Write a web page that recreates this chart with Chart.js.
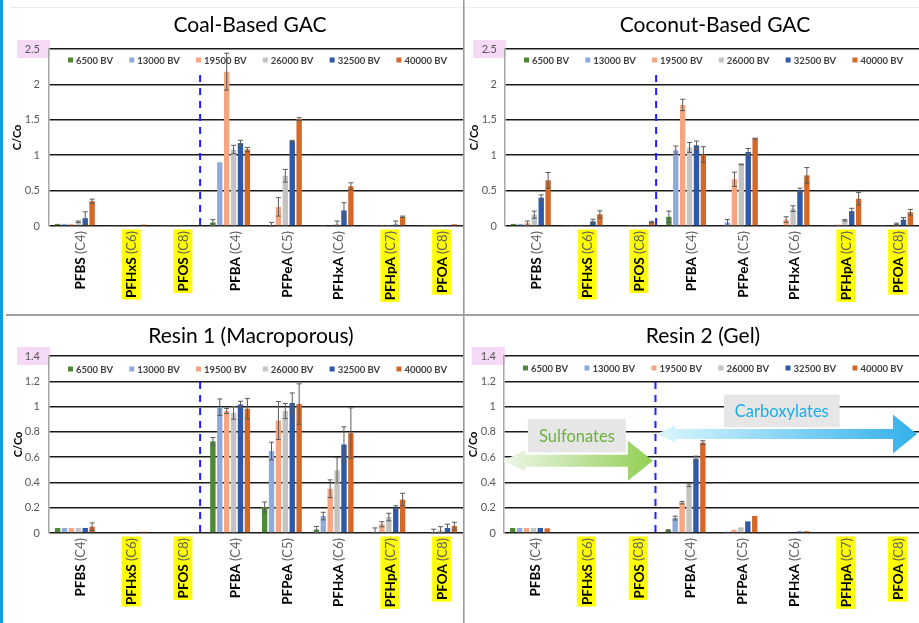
<!DOCTYPE html>
<html>
<head>
<meta charset="utf-8">
<script src="https://cdn.jsdelivr.net/npm/chart.js@4.4.0/dist/chart.umd.min.js"></script>
<style>
  html, body { margin: 0; padding: 0; background: #fff; }
  body { width: 919px; height: 623px; position: relative; overflow: hidden; font-family: Lato, sans-serif; }
  canvas { position: absolute; }
  #stripe { position: absolute; left: 0; top: 0; width: 3px; height: 623px; background: #0f9ee0; }
  #topline { position: absolute; left: 10px; top: 7px; width: 909px; height: 0; border-top: 1px solid #ececec; }
  #vline { position: absolute; left: 463px; top: 0; width: 0; height: 623px; border-left: 1px solid #9a9a9a; border-right: 1px solid #c4c4c4; }
  #hline { position: absolute; left: 6px; top: 314px; width: 913px; height: 0; border-top: 2px solid #a0a0a0; }
</style>
</head>
<body>
<div id="stripe"></div>
<div id="topline"></div>
<canvas id="coal" width="459" height="306" style="left:4px;top:8px"></canvas>
<canvas id="coconut" width="453" height="306" style="left:466px;top:8px"></canvas>
<canvas id="resin1" width="459" height="306" style="left:4px;top:317px"></canvas>
<canvas id="resin2" width="453" height="306" style="left:466px;top:317px"></canvas>
<div id="vline"></div>
<div id="hline"></div>
<script>
// ---- data -------------------------------------------------------------
const categories = ["PFBS", "PFHxS", "PFOS", "PFBA", "PFPeA", "PFHxA", "PFHpA", "PFOA"];
const carbonTags = ["(C4)", "(C6)", "(C8)", "(C4)", "(C5)", "(C6)", "(C7)", "(C8)"];
const highlighted = [false, true, true, false, false, false, true, true];
const seriesLabels = ["6500 BV", "13000 BV", "19500 BV", "26000 BV", "32500 BV", "40000 BV"];
const seriesColors = ["#4e8a35", "#8eaadb", "#f4a582", "#c3c3c3", "#2e59a8", "#d2692b"];

// rows = series (6500 ... 40000 BV), columns = categories
const coalMean = [
  [0.03, 0.012, 0.008, 0.05, 0, 0, 0.008, 0.008],
  [0.03, 0.012, 0.008, 0.90, 0.01, 0.008, 0.008, 0.008],
  [0.03, 0.012, 0.008, 2.18, 0.27, 0, 0.008, 0.008],
  [0.06, 0.012, 0.008, 1.08, 0.71, 0.03, 0.008, 0.008],
  [0.11, 0.012, 0.008, 1.17, 1.20, 0.22, 0.02, 0.008],
  [0.35, 0.02, 0.012, 1.08, 1.51, 0.56, 0.13, 0.025]
];
const coalErr = [
  [0, 0, 0, 0.04, 0, 0, 0, 0],
  [0, 0, 0, 0, 0.04, 0, 0, 0],
  [0, 0, 0, 0.26, 0.13, 0, 0, 0],
  [0.01, 0, 0, 0.06, 0.09, 0.04, 0, 0],
  [0.09, 0, 0, 0.04, 0.01, 0.11, 0.05, 0],
  [0.03, 0, 0, 0.03, 0.02, 0.05, 0.01, 0]
];

const coconutMean = [
  [0.03, 0.008, 0, 0.13, 0, 0.008, 0.008, 0.008],
  [0.03, 0.008, 0, 1.07, 0.05, 0, 0.008, 0.008],
  [0.04, 0.008, 0.008, 1.71, 0.66, 0.09, 0.02, 0.01],
  [0.16, 0.01, 0.008, 1.11, 0.87, 0.245, 0.08, 0.03],
  [0.40, 0.066, 0.015, 1.14, 1.045, 0.505, 0.21, 0.09],
  [0.645, 0.165, 0.057, 1.01, 1.235, 0.715, 0.385, 0.195]
];
const coconutErr = [
  [0, 0, 0, 0.08, 0, 0, 0, 0],
  [0, 0, 0, 0.06, 0.04, 0, 0, 0],
  [0.03, 0, 0, 0.08, 0.10, 0.04, 0, 0],
  [0.05, 0, 0, 0.07, 0.005, 0.04, 0.01, 0.01],
  [0.04, 0.03, 0, 0.06, 0.05, 0.03, 0.04, 0.03],
  [0.11, 0.05, 0.01, 0.11, 0.005, 0.11, 0.09, 0.04]
];

const resin1Mean = [
  [0.04, 0.006, 0, 0.725, 0.205, 0.027, 0.006, 0.006],
  [0.04, 0.006, 0, 0.995, 0.648, 0.134, 0.01, 0.006],
  [0.04, 0.006, 0, 0.965, 0.89, 0.35, 0.069, 0.01],
  [0.04, 0.006, 0, 0.95, 0.965, 0.496, 0.126, 0.02],
  [0.04, 0.006, 0, 1.017, 1.028, 0.70, 0.20, 0.04],
  [0.05, 0.01, 0.006, 0.983, 1.02, 0.79, 0.264, 0.055]
];
const resin1Err = [
  [0, 0, 0, 0.03, 0.04, 0.025, 0, 0],
  [0, 0, 0, 0.065, 0.07, 0.03, 0.03, 0],
  [0, 0, 0, 0.02, 0.15, 0.07, 0.02, 0.02],
  [0, 0, 0, 0.05, 0.06, 0.10, 0.03, 0.03],
  [0, 0, 0, 0.025, 0.08, 0.14, 0.015, 0.03],
  [0.03, 0, 0, 0.08, 0.16, 0.20, 0.05, 0.03]
];

const resin2Mean = [
  [0.04, 0.006, 0, 0.021, 0.006, 0, 0.006, 0.006],
  [0.04, 0.006, 0, 0.118, 0.01, 0, 0.006, 0.006],
  [0.04, 0.006, 0, 0.24, 0.025, 0, 0.006, 0.006],
  [0.04, 0.006, 0, 0.377, 0.045, 0.006, 0.006, 0.006],
  [0.04, 0.006, 0, 0.588, 0.092, 0.012, 0.006, 0.006],
  [0.037, 0.006, 0, 0.715, 0.135, 0.015, 0.006, 0.006]
];
const resin2Err = [
  [0, 0, 0, 0.005, 0, 0, 0, 0],
  [0, 0, 0, 0.015, 0, 0, 0, 0],
  [0, 0, 0, 0.01, 0, 0, 0, 0],
  [0, 0, 0, 0.01, 0, 0, 0, 0],
  [0, 0, 0, 0.02, 0, 0, 0, 0],
  [0, 0, 0, 0.015, 0, 0, 0, 0]
];

// ---- panels ----------------------------------------------------------
const panels = [
  { id: "coal", title: "Coal-Based GAC", titleX: 246, titleY: 17, mean: coalMean, err: coalErr,
    max: 2.5, step: 0.5, top: 41, yw: 45, xh: 88, tickPad: 9, titlePad: 7, legendDy: 11 },
  { id: "coconut", title: "Coconut-Based GAC", titleX: 249, titleY: 17, mean: coconutMean, err: coconutErr,
    max: 2.5, step: 0.5, top: 41, yw: 39, xh: 88, tickPad: 8, titlePad: 2, legendDy: 11 },
  { id: "resin1", title: "Resin 1 (Macroporous)", titleX: 247, titleY: 19, mean: resin1Mean, err: resin1Err,
    max: 1.4, step: 0.2, top: 39, yw: 45, xh: 90, tickPad: 9, titlePad: 8, legendDy: 13 },
  { id: "resin2", title: "Resin 2 (Gel)", titleX: 237, titleY: 19, mean: resin2Mean, err: resin2Err,
    max: 1.4, step: 0.2, top: 39, yw: 38, xh: 90, tickPad: 8, titlePad: 1, legendDy: 12, arrows: true }
];

/* ── drawing helpers ───────────────────────────────────────*/
function doubleArrow(ctx, x1, x2, yc, sh, lLen, lH, rLen, rH, fill) {
  ctx.beginPath();
  ctx.moveTo(x1, yc);
  ctx.lineTo(x1 + lLen, yc - lH);
  ctx.lineTo(x1 + lLen, yc - sh);
  ctx.lineTo(x2 - rLen, yc - sh);
  ctx.lineTo(x2 - rLen, yc - rH);
  ctx.lineTo(x2, yc);
  ctx.lineTo(x2 - rLen, yc + rH);
  ctx.lineTo(x2 - rLen, yc + sh);
  ctx.lineTo(x1 + lLen, yc + sh);
  ctx.lineTo(x1 + lLen, yc + lH);
  ctx.closePath();
  ctx.fillStyle = fill;
  ctx.fill();
}

function drawArrows(chart) {
  const { ctx } = chart;
  const xs = chart.scales.x, ys = chart.scales.y;
  const cx = idx => xs.left + idx * xs.width / categories.length;
  const cy = v => ys.getPixelForValue(v);

  // Sulfonates
  let x1 = cx(-0.02), x2 = cx(2.87), yc = cy(0.571);
  let g = ctx.createLinearGradient(x1, 0, x2, 0);
  g.addColorStop(0, "#eef6e8");
  g.addColorStop(1, "#92cf55");
  doubleArrow(ctx, x1, x2, yc, 6, 22, 10.5, 25, 20, g);

  // Carboxylates
  x1 = cx(2.95); x2 = cx(7.96); yc = cy(0.784);
  g = ctx.createLinearGradient(x1, 0, x2, 0);
  g.addColorStop(0, "#dcf7fe");
  g.addColorStop(1, "#33b0ea");
  doubleArrow(ctx, x1, x2, yc, 5, 18, 8.5, 24, 19.5, g);

  // label boxes
  ctx.font = "16.5px Lato";
  ctx.textAlign = "center";
  ctx.textBaseline = "middle";
  [[0.46, 2.35, 0.90, 0.638, "Sulfonates", "#69b23c"],
   [4.24, 6.47, 1.096, 0.836, "Carboxylates", "#19aee8"]].forEach(([a, b, t, btm, txt, col]) => {
    const l = cx(a), r = cx(b), tp = cy(t), bt = cy(btm);
    ctx.fillStyle = "#e7e6e6";
    ctx.fillRect(l, tp, r - l, bt - tp);
    ctx.fillStyle = col;
    ctx.fillText(txt, (l + r) / 2, (tp + bt) / 2 + 1);
  });
}

function decor(p) {
  return {
    id: "decor",
    beforeDraw(chart) {
      const { ctx } = chart, ys = chart.scales.y;
      const yt = ys.getPixelForValue(p.max);
      ctx.save();
      ctx.fillStyle = "#f6d9f4";
      ctx.fillRect(ys.right - 32, yt - 9, 33, 18);
      ctx.restore();
    },
    afterDatasetsDraw(chart) {
      const { ctx } = chart, ys = chart.scales.y;
      ctx.save();
      ctx.strokeStyle = "#5a5a5a";
      ctx.lineWidth = 1;
      chart.data.datasets.forEach((ds, s) => {
        chart.getDatasetMeta(s).data.forEach((bar, i) => {
          const e = ds.errors[i];
          if (!e) return;
          const v = ds.data[i];
          const yt = ys.getPixelForValue(v + e);
          const yb = ys.getPixelForValue(Math.max(v - e, 0));
          ctx.beginPath();
          ctx.moveTo(bar.x, yt); ctx.lineTo(bar.x, yb);
          ctx.moveTo(bar.x - 2.5, yt); ctx.lineTo(bar.x + 2.5, yt);
          ctx.moveTo(bar.x - 2.5, yb); ctx.lineTo(bar.x + 2.5, yb);
          ctx.stroke();
        });
      });
      ctx.restore();
    },
    afterDraw(chart) {
      const { ctx, chartArea } = chart;
      const xs = chart.scales.x;
      ctx.save();

      // title
      ctx.fillStyle = "#000";
      ctx.font = "21px Lato";
      ctx.textAlign = "center";
      ctx.textBaseline = "middle";
      ctx.fillText(p.title, p.titleX, p.titleY);

      // legend inside the top band
      ctx.font = "bold 9.5px Lato";
      ctx.textAlign = "left";
      const widths = seriesLabels.map(t => 8 + ctx.measureText(t).width);
      const x0 = chartArea.left + 19, x1 = chartArea.right - 16;
      const gap = (x1 - x0 - widths.reduce((a, b) => a + b, 0)) / (seriesLabels.length - 1);
      const ly = chartArea.top + p.legendDy;
      let lx = x0;
      seriesLabels.forEach((t, s) => {
        ctx.fillStyle = seriesColors[s];
        ctx.fillRect(lx, ly - 2.5, 5, 5);
        ctx.fillStyle = "#404040";
        ctx.fillText(t, lx + 8, ly + 0.5);
        lx += widths[s] + gap;
      });

      // dashed separator sulfonates | carboxylates
      const dx = xs.left + 2.92 * xs.width / categories.length;
      ctx.strokeStyle = "#1f1fff";
      ctx.lineWidth = 2;
      ctx.setLineDash([7, 6]);
      ctx.beginPath();
      ctx.moveTo(dx, chartArea.top + 26);
      ctx.lineTo(dx, chartArea.bottom);
      ctx.stroke();
      ctx.setLineDash([]);

      // rotated category labels
      categories.forEach((name, i) => {
        const x = xs.getPixelForValue(i) + 4.5;
        const y = chartArea.bottom + 5;
        ctx.save();
        ctx.translate(x, y);
        ctx.rotate(-Math.PI / 2);
        ctx.textBaseline = "middle";
        ctx.textAlign = "left";
        ctx.font = "bold 13.5px Lato";
        const w1 = ctx.measureText(name).width;
        ctx.font = "13px Lato";
        const tag = " " + carbonTags[i];
        const w2 = ctx.measureText(tag).width;
        const w = w1 + w2;
        if (highlighted[i]) {
          ctx.fillStyle = "#ffff00";
          ctx.fillRect(-w - 1.5, -9.5, w + 3, 19);
        }
        ctx.fillStyle = "#000";
        ctx.font = "bold 13.5px Lato";
        ctx.fillText(name, -w, 1);
        ctx.fillStyle = "#606060";
        ctx.font = "13px Lato";
        ctx.fillText(tag, -w + w1, 1);
        ctx.restore();
      });

      if (p.arrows) drawArrows(chart);
      ctx.restore();
    }
  };
}

function makePanel(p) {
  return new Chart(document.getElementById(p.id), {
    type: "bar",
    data: {
      labels: categories,
      datasets: seriesLabels.map((label, s) => ({
        label,
        data: p.mean[s],
        errors: p.err[s],
        backgroundColor: seriesColors[s],
        barPercentage: 0.78,
        categoryPercentage: 0.8
      }))
    },
    options: {
      responsive: false,
      animation: false,
      layout: { padding: { top: p.top, left: 0, right: 0, bottom: 0 } },
      scales: {
        x: {
          grid: { display: false },
          border: { display: false },
          ticks: { display: false },
          afterFit: s => { s.height = p.xh; }
        },
        y: {
          min: 0, max: p.max,
          ticks: {
            stepSize: p.step, color: "#595959", font: { family: "Lato", size: 11 }, padding: p.tickPad,
            callback: v => String(Number(v.toFixed(2)))
          },
          grid: { color: "#1a1a1a", lineWidth: 1.5, drawTicks: false },
          border: { color: "#a6a6a6", width: 1.5 },
          title: { display: true, text: "C/Co", color: "#000", font: { family: "Lato", size: 11, weight: "bold" }, padding: { top: p.titlePad, bottom: 0 } },
          afterFit: s => { s.width = p.yw; }
        }
      },
      plugins: { legend: { display: false }, tooltip: { enabled: false }, title: { display: false } }
    },
    plugins: [decor(p)]
  });
}

panels.forEach(makePanel);
</script>
</body>
</html>
